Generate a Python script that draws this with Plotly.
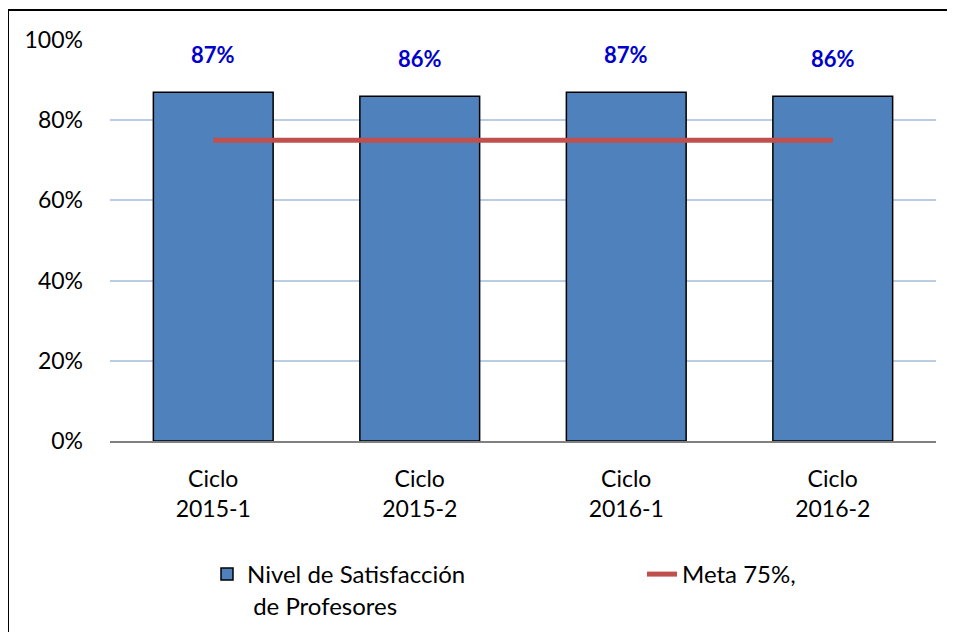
import plotly.graph_objects as go

ciclos = ["Ciclo<br>2015-1", "Ciclo<br>2015-2", "Ciclo<br>2016-1", "Ciclo<br>2016-2"]
satisfaccion = [0.87, 0.86, 0.87, 0.86]
meta = [0.75, 0.75, 0.75, 0.75]
etiquetas = ["87%", "86%", "87%", "86%"]

W, H = 955, 632
# page body adds an 8px offset, so figure coords are screen coords - 8
ml, mr, mt, mb = 102, 27, 32, 199
pw, ph = W - ml - mr, H - mt - mb


def px_x(x):
    return (x - ml) / pw


def px_y(y):
    return (H - mb - y) / ph


fig = go.Figure()
fig.add_trace(go.Bar(
    x=ciclos, y=satisfaccion,
    name="Nivel de Satisfacción<br>\u00a0de Profesores",
    marker=dict(color="#4F81BD", line=dict(color="black", width=1.5)),
    legend="legend",
))
fig.add_trace(go.Scatter(
    x=ciclos, y=meta, mode="lines",
    name="Meta 75%,",
    line=dict(color="#C0504D", width=5),
    legend="legend2",
))

for c, v, t in zip(ciclos, satisfaccion, etiquetas):
    fig.add_annotation(x=c, y=v, text="<b>%s</b>" % t, showarrow=False,
                       yshift=38, font=dict(color="#0000CC", size=22))

# outer border (right/bottom edges fall outside the view like the original)
fig.add_shape(type="rect", xref="paper", yref="paper",
              x0=px_x(0), x1=px_x(970), y0=px_y(650), y1=px_y(2),
              line=dict(color="black", width=2))

leg = dict(xanchor="left", yanchor="top", valign="top",
           font=dict(size=24), bgcolor="rgba(0,0,0,0)")
fig.update_layout(
    width=W, height=H,
    margin=dict(l=ml, r=mr, t=mt, b=mb),
    paper_bgcolor="white", plot_bgcolor="white",
    font=dict(family="Lato", size=23, color="black"),
    bargap=0.42,
    showlegend=True,
    legend=dict(x=px_x(199), y=px_y(544), **leg),
    legend2=dict(x=px_x(634), y=px_y(544), **leg),
)
fig.update_yaxes(range=[0, 1], dtick=0.2, tickformat=".0%",
                 showgrid=True, gridcolor="#B9CDE5", gridwidth=1.5,
                 zeroline=False, ticklabelstandoff=26)
fig.update_xaxes(showline=True, linecolor="#808080", linewidth=2,
                 ticklabelstandoff=16)

fig.write_html("out.html")
